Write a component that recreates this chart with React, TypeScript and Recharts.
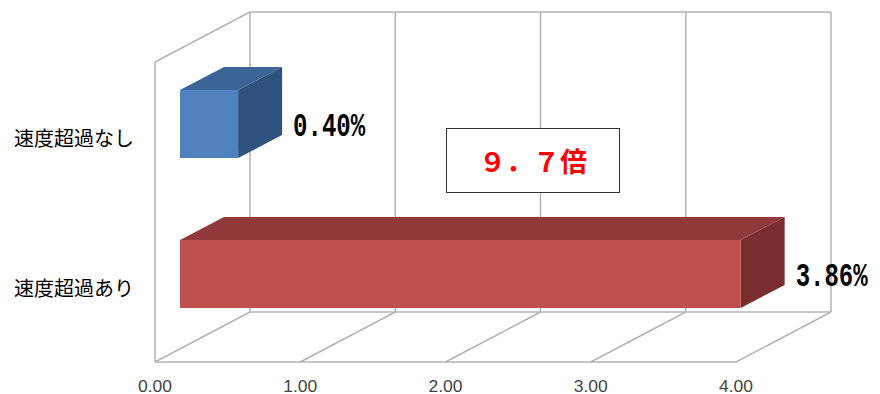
import React from 'react';
import { BarChart, Bar, XAxis, YAxis, LabelList, CartesianGrid } from 'recharts';

const categories = ['速度超過なし', '速度超過あり'];
const rates = [0.4, 3.86];
const xTicks = [0, 1, 2, 3, 4];
const ratioLabel = '９．７倍';

const data = categories.map((name, i) => ({ name, rate: rates[i] }));

const W = 880;
const H = 394;
// front plane of the 3D plot box
const PLOT = { left: 155, right: 736, top: 62, bottom: 362 };
// offset from front plane to back wall
const DEPTH = { dx: 95, dy: -50 };
// bar front face sits a bit behind the front plane, then has its own depth
const BAR_FRONT = { dx: 25, dy: -13 };
const BAR_DEPTH = { dx: 44, dy: -23 };
const GRID = '#b3b3b3';

const faces = [
    { front: '#4f81bd', top: '#3c6494', side: '#30527e' },
    { front: '#c0504d', top: '#903a39', side: '#7b2e2e' },
];

function Box3D(props: any) {
    const { x, y, width, height, index } = props;
    const c = faces[(index ?? 0) % faces.length];
    const fx = x + BAR_FRONT.dx;
    const fy = y + BAR_FRONT.dy;
    const { dx, dy } = BAR_DEPTH;
    return (
        <g>
            <polygon
                points={`${fx},${fy} ${fx + dx},${fy + dy} ${fx + width + dx},${fy + dy} ${fx + width},${fy}`}
                fill={c.top}
            />
            <polygon
                points={`${fx + width},${fy} ${fx + width + dx},${fy + dy} ${fx + width + dx},${fy + height + dy} ${fx + width},${fy + height}`}
                fill={c.side}
            />
            <rect x={fx} y={fy} width={width} height={height} fill={c.front} />
        </g>
    );
}

function ValueLabel(props: any) {
    const vb = props.viewBox ?? props;
    const { x, y, width, height } = vb;
    const cx = x + width + BAR_FRONT.dx + BAR_DEPTH.dx + 47;
    const cy = y + height / 2 - 10;
    // tall narrow digits like the original
    return (
        <text
            transform={`translate(${cx},${cy}) scale(1,1.35)`}
            x={0}
            y={0}
            textAnchor="middle"
            dominantBaseline="central"
            fontFamily="'Liberation Mono', monospace"
            fontWeight="bold"
            fontSize={24}
            fill="#000"
        >
            {`${Number(props.value).toFixed(2)}%`}
        </text>
    );
}

// floor diagonal + back wall line for each x gridline
function WallLine(props: any) {
    const { x1, y1, y2 } = props;
    const bx = x1 + DEPTH.dx;
    return (
        <g key={props.key}>
            <line x1={x1} y1={y2} x2={bx} y2={y2 + DEPTH.dy} stroke={GRID} strokeWidth={1.5} />
            <line x1={bx} y1={y1 + DEPTH.dy} x2={bx} y2={y2 + DEPTH.dy} stroke={GRID} strokeWidth={1.5} />
        </g>
    );
}

function FloorTick(props: any) {
    const { x, y, payload } = props;
    return (
        <text
            x={x}
            y={y + 30}
            textAnchor="middle"
            fontSize={16}
            fill="#444"
            fontFamily="'Liberation Sans', sans-serif"
            textLength={34}
            lengthAdjust="spacingAndGlyphs"
        >
            {Number(payload.value).toFixed(2)}
        </text>
    );
}

function CategoryTick(props: any) {
    const { x, y, payload } = props;
    return (
        <text
            x={x - 21}
            y={y}
            textAnchor="end"
            dominantBaseline="central"
            fontSize={20}
            fill="#000"
            fontFamily="'Noto Sans CJK JP', sans-serif"
        >
            {payload.value}
        </text>
    );
}

export default function App() {
    const backTop = PLOT.top + DEPTH.dy;
    const backBottom = PLOT.bottom + DEPTH.dy;
    return (
        <div style={{ position: 'fixed', left: 0, top: 0, width: W, height: H, background: '#fff' }}>
            <svg width={W} height={H} style={{ position: 'absolute', left: 0, top: 0 }}>
                <line x1={PLOT.left} y1={PLOT.top} x2={PLOT.left + DEPTH.dx} y2={backTop} stroke={GRID} strokeWidth={1.5} />
                <line x1={PLOT.left + DEPTH.dx} y1={backTop} x2={PLOT.right + DEPTH.dx} y2={backTop} stroke={GRID} strokeWidth={1.5} />
                <line x1={PLOT.left + DEPTH.dx} y1={backBottom} x2={PLOT.right + DEPTH.dx} y2={backBottom} stroke={GRID} strokeWidth={1.5} />
            </svg>
            <div style={{ position: 'absolute', left: 0, top: 0 }}>
                <BarChart
                    width={W}
                    height={H}
                    data={data}
                    layout="vertical"
                    margin={{ top: PLOT.top, right: W - PLOT.right, bottom: 0, left: 10 }}
                    barSize={68}
                >
                    <CartesianGrid horizontal={false} vertical={(p: any) => <WallLine {...p} />} syncWithTicks />
                    <XAxis
                        type="number"
                        domain={[0, 4]}
                        ticks={xTicks}
                        height={H - PLOT.bottom}
                        tickSize={0}
                        tickMargin={0}
                        axisLine={{ stroke: GRID, strokeWidth: 1.5 }}
                        tickLine={false}
                        tick={<FloorTick />}
                        interval={0}
                    />
                    <YAxis
                        type="category"
                        dataKey="name"
                        width={PLOT.left - 10}
                        tickSize={0}
                        tickMargin={0}
                        axisLine={{ stroke: GRID, strokeWidth: 1.5 }}
                        tickLine={false}
                        tick={<CategoryTick />}
                    />
                    <Bar dataKey="rate" shape={<Box3D />} isAnimationActive={false}>
                        <LabelList dataKey="rate" content={<ValueLabel />} />
                    </Bar>
                </BarChart>
            </div>
            <div
                style={{
                    position: 'absolute',
                    left: 446,
                    top: 128,
                    width: 174,
                    height: 65,
                    boxSizing: 'border-box',
                    border: '1.5px solid #333',
                    background: '#fff',
                    display: 'flex',
                    alignItems: 'center',
                    justifyContent: 'center',
                    color: '#ff0000',
                    fontWeight: 'bold',
                    fontSize: 27,
                    fontFamily: "'Noto Sans CJK JP', sans-serif",
                }}
            >
                {ratioLabel}
            </div>
        </div>
    );
}
